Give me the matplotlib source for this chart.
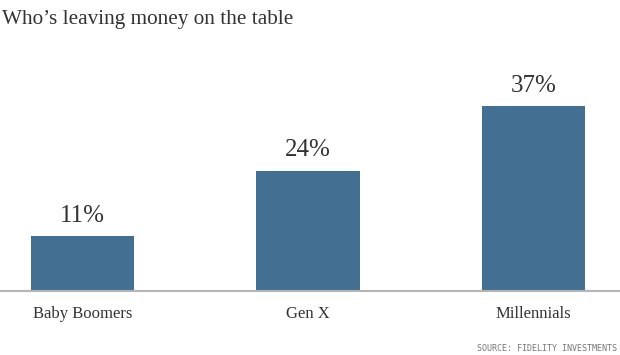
import matplotlib.pyplot as plt

groups = ['Baby Boomers', 'Gen X', 'Millennials']
shares = [11, 24, 37]  # percent
value_labels = ['11%', '24%', '37%']

fig = plt.figure(figsize=(6.2, 3.55), dpi=100)
ax = fig.add_axes([0, 64 / 355, 1, 200 / 355])

x = range(len(groups))
ax.bar(x, shares, width=0.46, color='#436f92', zorder=2)
ax.set_xlim(-0.366, 2.384)
ax.set_ylim(0, 40)

for i, v in enumerate(shares):
    ax.text(i, v + 1.9, value_labels[i], ha='center', va='bottom',
            fontsize=18, family='Liberation Serif', color='#333333')

# category names under the baseline
ax.set_xticks(list(x))
ax.set_xticklabels(groups, fontsize=12, family='Liberation Serif', color='#333333')
ax.tick_params(axis='x', length=0, pad=11)
ax.set_yticks([])

for s in ['top', 'right', 'left']:
    ax.spines[s].set_visible(False)
ax.spines['bottom'].set_color('#b5b5b5')
ax.spines['bottom'].set_linewidth(1.5)

fig.text(0.003, 0.945, 'Who\u2019s leaving money on the table', ha='left', va='center',
         fontsize=15.3, family='Liberation Serif', color='#333333')
fig.text(0.995, 0.017, 'SOURCE: FIDELITY INVESTMENTS',
         ha='right', va='center', fontsize=6, family='DejaVu Sans Mono', color='#777777')

fig.savefig('out.png', dpi=100)
